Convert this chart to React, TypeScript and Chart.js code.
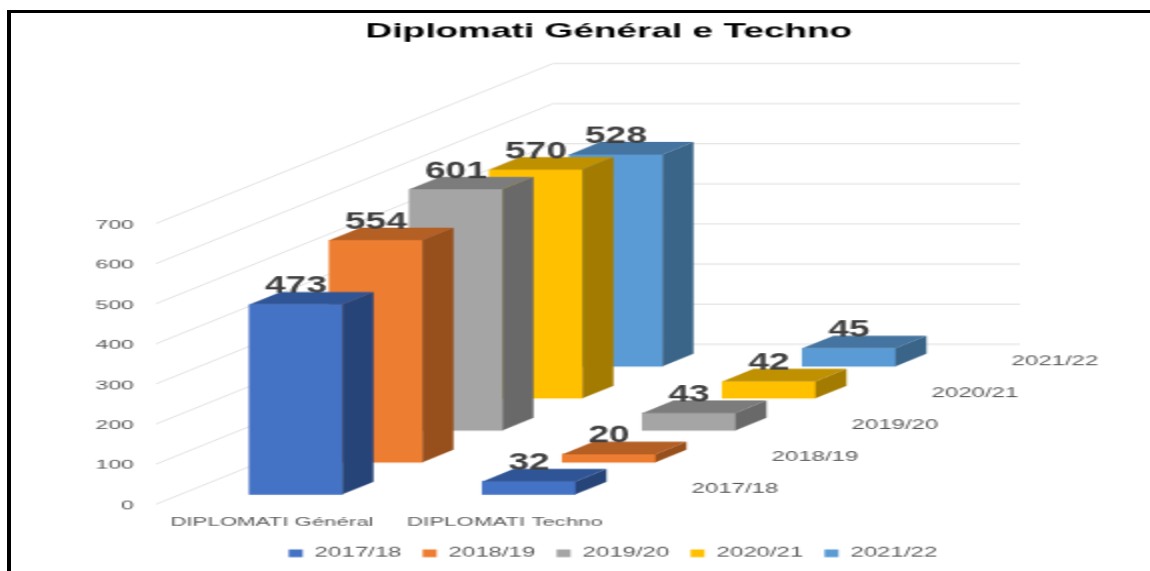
import React, { useEffect, useRef } from "react";
import { Chart, registerables } from "chart.js";

Chart.register(...registerables);

const categories = ["DIPLOMATI Général", "DIPLOMATI Techno"];
const years = ["2017/18", "2018/19", "2019/20", "2020/21", "2021/22"];
const values201718 = [473, 32];
const values201819 = [554, 20];
const values201920 = [601, 43];
const values202021 = [570, 42];
const values202122 = [528, 45];
const seriesValues = [values201718, values201819, values201920, values202021, values202122];
const frontColors = ["#4472C4", "#ED7D31", "#A5A5A5", "#FFC000", "#5B9BD5"];
const topColors = ["#2F5597", "#B45F24", "#7C7C7C", "#BF9000", "#44749F"];
const sideColors = ["#264478", "#974F1B", "#696969", "#A37B00", "#3A6488"];

// The reference is a stretched picture: draw small and stretch the canvas the same way.
const SX = 2;
const SY = 1.1;
const W = 575;
const H = 519;
const FONT = "'Liberation Sans', Arial, sans-serif";

const STEP_X = 40;
const STEP_Y = -32 / SY;
const BASE_Y = -10 / SY;
const SIDE_X = 15.5;
const SIDE_Y = -12.5 / SY;
const WALL_X0 = 156 / SX;
const WALL_X1 = 553 / SX;
const WALL_X2 = 1020 / SX;
const WALL_RISE = 160 / SY;
const LABEL_STRETCH = 1.15;

const depthOffset = (i: number) => ({ x: i * STEP_X, y: BASE_Y + i * STEP_Y });

const bars3d = {
  id: "bars3d",
  afterLayout(chart: any) {
    chart.titleBlock.left -= 2;
    chart.titleBlock.right -= 2;
  },
  beforeDatasetsDraw(chart: any) {
    const { ctx, scales } = chart;
    ctx.save();
    ctx.strokeStyle = "#dfdfdf";
    ctx.lineWidth = 1;
    scales.y.ticks.forEach((t: any) => {
      const y = scales.y.getPixelForValue(t.value);
      ctx.beginPath();
      ctx.moveTo(WALL_X0, y);
      ctx.lineTo(WALL_X1, y - WALL_RISE);
      ctx.lineTo(WALL_X2, y - WALL_RISE);
      ctx.stroke();
    });
    ctx.restore();
  },
  beforeDatasetDraw(chart: any, args: any) {
    const o = depthOffset(args.index);
    chart.ctx.save();
    chart.ctx.translate(o.x, o.y);
  },
  afterDatasetDraw(chart: any, args: any) {
    const { ctx } = chart;
    const i = args.index;
    args.meta.data.forEach((el: any) => {
      const l = el.x - el.width / 2;
      const r = el.x + el.width / 2;
      ctx.fillStyle = topColors[i];
      ctx.beginPath();
      ctx.moveTo(l, el.y);
      ctx.lineTo(l + SIDE_X, el.y + SIDE_Y);
      ctx.lineTo(r + SIDE_X, el.y + SIDE_Y);
      ctx.lineTo(r, el.y);
      ctx.closePath();
      ctx.fill();
      ctx.fillStyle = sideColors[i];
      ctx.beginPath();
      ctx.moveTo(r, el.y);
      ctx.lineTo(r + SIDE_X, el.y + SIDE_Y);
      ctx.lineTo(r + SIDE_X, el.base + SIDE_Y);
      ctx.lineTo(r, el.base);
      ctx.closePath();
      ctx.fill();
    });
    ctx.restore();
  },
  afterDatasetsDraw(chart: any) {
    const { ctx, scales } = chart;
    ctx.save();
    ctx.textAlign = "center";
    ctx.textBaseline = "middle";
    ctx.fillStyle = "#404040";
    ctx.font = `bold 18.5px ${FONT}`;
    chart.data.datasets.forEach((ds: any, i: number) => {
      const o = depthOffset(i);
      chart.getDatasetMeta(i).data.forEach((el: any, k: number) => {
        ctx.save();
        ctx.translate(el.x + o.x, el.y + o.y - 18 / SY);
        ctx.scale(1, LABEL_STRETCH);
        ctx.fillText(String(ds.data[k].y), 0, 0);
        ctx.restore();
      });
    });
    ctx.fillStyle = "#595959";
    ctx.font = `12px ${FONT}`;
    years.forEach((year, i) => {
      const o = depthOffset(i);
      const x = scales.x.getPixelForValue(1) + 206 / SX + o.x;
      const y = scales.y.getPixelForValue(0) - 5 / SY + o.y;
      ctx.fillText(year, x, y);
    });
    ctx.restore();
  },
};

export default function App() {
  const ref = useRef<HTMLCanvasElement>(null);
  useEffect(() => {
    const chart = new Chart(ref.current as HTMLCanvasElement, {
      type: "bar",
      data: {
        datasets: years.map((year, i) => ({
          label: year,
          data: seriesValues[i].map((v, k) => ({ x: k, y: v })),
          backgroundColor: frontColors[i],
          borderWidth: 0,
          grouped: false,
          barThickness: 46.5,
          clip: false as any,
        })),
      },
      options: {
        animation: false,
        responsive: false,
        devicePixelRatio: 1,
        layout: { padding: { left: 38, right: 0, top: 0, bottom: 0 } },
        plugins: {
          tooltip: { enabled: false },
          title: {
            display: true,
            text: "Diplomati Général e Techno",
            color: "#000000",
            font: { family: FONT, size: 18.5, weight: "bold", lineHeight: 1.2 },
            padding: { top: 17.4, bottom: 163.6 },
          },
          legend: {
            position: "bottom",
            labels: {
              boxWidth: 7,
              boxHeight: 7,
              padding: 10.6,
              color: "#595959",
              font: { family: FONT, size: 12 },
            },
          },
        },
        scales: {
          x: {
            type: "linear",
            offset: false,
            min: -0.5,
            max: 3.665,
            grid: { display: false },
            border: { display: false },
            afterBuildTicks: (s: any) => {
              s.ticks = categories.map((_, k) => ({ value: k }));
            },
            afterFit: (s: any) => {
              s.height = 28;
            },
            ticks: {
              callback: (v: any) => categories[v],
              labelOffset: -12,
              padding: 1.5,
              maxRotation: 0,
              autoSkip: false,
              color: "#595959",
              font: { family: FONT, size: 11.1 },
            },
          },
          y: {
            min: 0,
            max: 700,
            grid: { display: false },
            border: { display: false },
            afterFit: (s: any) => {
              s.width = 51.75;
            },
            ticks: {
              stepSize: 100,
              padding: 14.75,
              labelOffset: 1.3,
              color: "#595959",
              font: { family: FONT, size: 11.5 },
            },
          },
        },
      },
      plugins: [bars3d],
    } as any);
    return () => chart.destroy();
  }, []);
  return (
    <div style={{ position: "fixed", left: 0, top: 0, width: 1150, height: 571, overflow: "hidden", background: "#fff" }}>
      <canvas
        ref={ref}
        width={W}
        height={H}
        style={{
          position: "absolute",
          left: 0,
          top: 0,
          transformOrigin: "0 0",
          transform: `scale(${SX}, ${SY})`,
        }}
      />
      <div
        style={{
          position: "absolute",
          left: 7,
          top: 10,
          right: 0,
          bottom: 0,
          borderTop: "3px solid #000",
          borderLeft: "4px solid #000",
        }}
      />
    </div>
  );
}
